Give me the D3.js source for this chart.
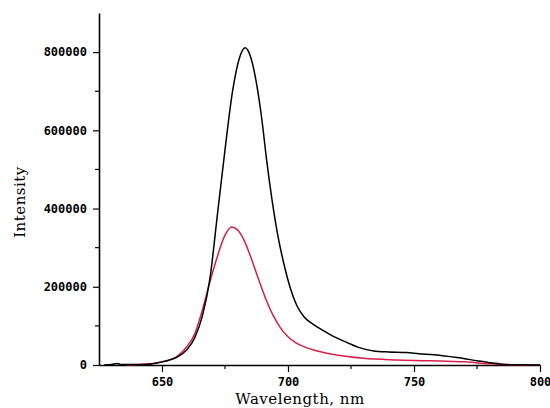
<!DOCTYPE html>
<html>
<head>
<meta charset="utf-8">
<script src="https://cdn.jsdelivr.net/npm/d3@7"></script>
<style>
  html, body { margin: 0; padding: 0; background: #fff; }
  svg { display: block; }
  .tick-label { font-family: "DejaVu Sans Mono", monospace; font-weight: bold; font-size: 12px; fill: #000; }
  .axis-title { font-family: "DejaVu Serif", serif; font-size: 15px; letter-spacing: 0.5px; fill: #000; }
</style>
</head>
<body>
<svg id="chart" width="550" height="408"></svg>
<script>
// Emission spectra: wavelength (nm) vs intensity
const blackWl = [627, 630, 632, 634, 640, 645, 650, 653, 656, 660, 663, 666, 669, 672, 675, 678, 680.5, 683, 685.3, 687.5, 689.6, 691.5, 693.6, 696, 698.5, 701, 703.5, 706.5, 710, 714, 718, 723.3, 728, 734, 740, 747, 752, 758, 767, 775, 780, 785, 790, 800];
const blackI  = [0, 1000, 4000, 1000, 1000, 2000, 8000, 13000, 20000, 40000, 70000, 125000, 220000, 385000, 550000, 700000, 780000, 811000, 785000, 720000, 629000, 525000, 425000, 330000, 255000, 195000, 152000, 122000, 104000, 88000, 73000, 58000, 45000, 36000, 33500, 32000, 29000, 26000, 19000, 11000, 6000, 2000, 500, 0];

const redWl = [636, 645, 650, 656, 660, 663, 666, 669, 672, 675, 677.7, 680, 682.5, 685, 688, 691, 694, 697, 700, 703, 707, 712, 717, 730, 743, 756, 770, 778, 785, 800];
const redI  = [0, 3000, 8000, 22000, 48000, 80000, 140000, 212000, 278000, 332000, 353000, 345000, 320000, 280000, 225000, 172000, 128000, 95000, 72000, 57000, 45000, 35000, 28000, 17000, 13000, 11000, 8000, 4000, 1000, 0];

const xMajor = [650, 700, 750, 800];
const xMinor = [675, 725, 775];
const yMajor = [0, 200000, 400000, 600000, 800000];
const yMinor = [100000, 300000, 500000, 700000];

const svg = d3.select("#chart");
const x = d3.scaleLinear().domain([625, 800]).range([99, 540]);
const y = d3.scaleLinear().domain([0, 900000]).range([365, 13]);

// Axes
const xAxis = d3.axisBottom(x).tickValues(xMajor).tickSize(7).tickSizeOuter(0).tickPadding(5);
const yAxis = d3.axisLeft(y).tickValues(yMajor).tickSize(6).tickSizeOuter(0).tickPadding(6).tickFormat(d3.format("d"));

const gx = svg.append("g").attr("transform", `translate(0,${y(0)})`).call(xAxis);
const gy = svg.append("g").attr("transform", `translate(${x(625)},0)`).call(yAxis);

[gx, gy].forEach(g => {
  g.select(".domain").attr("stroke", "#000").attr("stroke-width", 1.6);
  g.selectAll(".tick line").attr("stroke", "#000").attr("stroke-width", 1.2);
  g.selectAll(".tick text").attr("class", "tick-label").attr("font-family", null).attr("font-size", null);
});

// Minor ticks
svg.append("g").selectAll("line").data(xMinor).join("line")
  .attr("x1", d => x(d)).attr("x2", d => x(d))
  .attr("y1", y(0)).attr("y2", y(0) + 4)
  .attr("stroke", "#000").attr("stroke-width", 1.2);
svg.append("g").selectAll("line").data(yMinor).join("line")
  .attr("x1", x(625) - 4).attr("x2", x(625))
  .attr("y1", d => y(d)).attr("y2", d => y(d))
  .attr("stroke", "#000").attr("stroke-width", 1.2);

// Spectra
const line = d3.line().x(d => x(d[0])).y(d => y(d[1])).curve(d3.curveMonotoneX);
svg.append("path")
  .datum(redWl.map((w, i) => [w, redI[i]]))
  .attr("d", line).attr("fill", "none").attr("stroke", "#d81e4a").attr("stroke-width", 1.5);
svg.append("path")
  .datum(blackWl.map((w, i) => [w, blackI[i]]))
  .attr("d", line).attr("fill", "none").attr("stroke", "#000").attr("stroke-width", 1.5);

// Axis titles
svg.append("text").attr("class", "axis-title")
  .attr("x", 300).attr("y", 404).attr("text-anchor", "middle")
  .text("Wavelength, nm");
svg.append("text").attr("class", "axis-title")
  .attr("transform", "translate(25,202) rotate(-90)").attr("text-anchor", "middle")
  .text("Intensity");
</script>
</body>
</html>
